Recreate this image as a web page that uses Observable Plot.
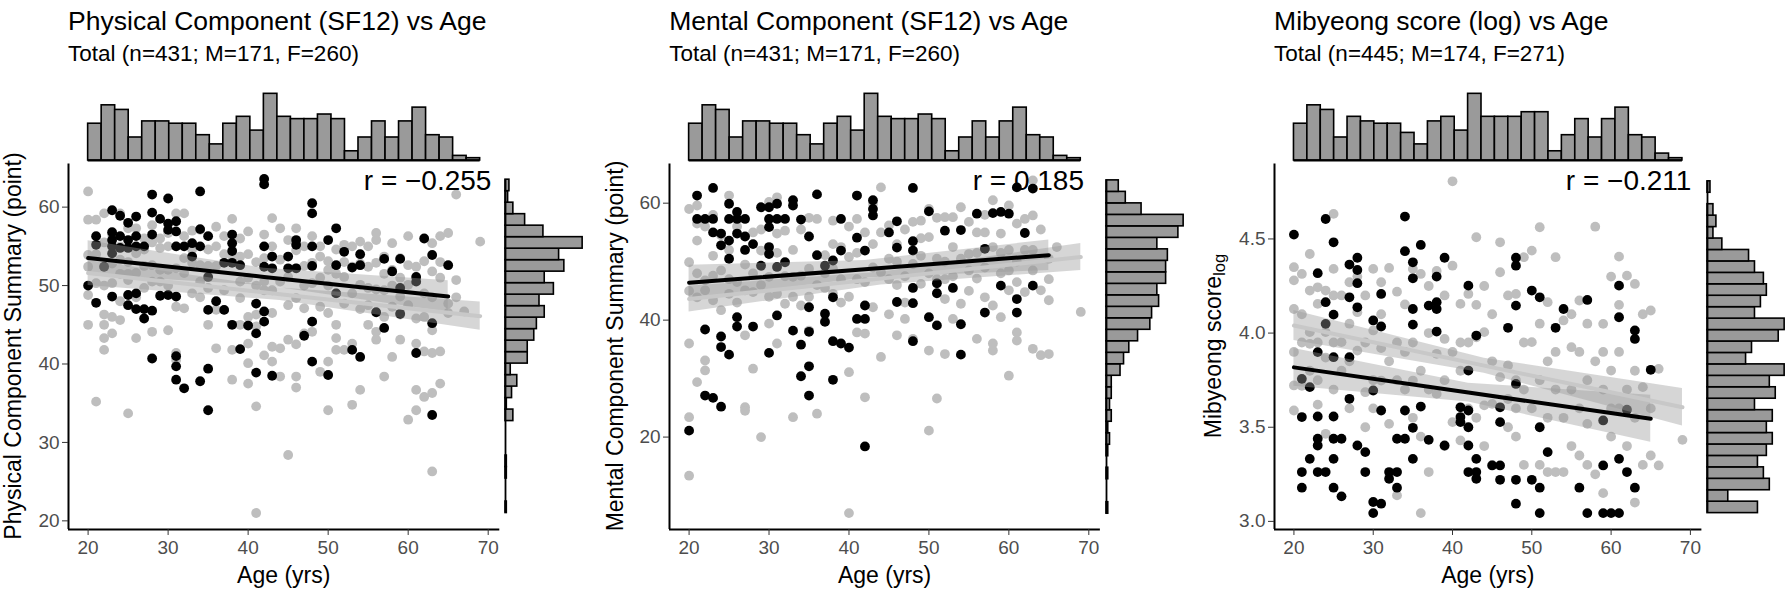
<!DOCTYPE html>
<html><head><meta charset="utf-8">
<script src="https://cdn.jsdelivr.net/npm/d3@7"></script>
<script src="https://cdn.jsdelivr.net/npm/@observablehq/plot@0.6"></script>
<style>
body{margin:0;background:#fff;}
#chart{position:relative;width:1787px;height:598px;overflow:hidden;font-family:"Liberation Sans",Arial,Helvetica,sans-serif;color:#000;}
.abs{position:absolute;white-space:nowrap;line-height:1;}
</style></head><body><div id="chart"></div>
<script>
// ---------------- DATA ----------------
const titles = ["Physical Component (SF12) vs Age", "Mental Component (SF12) vs Age", "Mibyeong score (log) vs Age"];
const subtitles = ["Total (n=431; M=171, F=260)", "Total (n=431; M=171, F=260)", "Total (n=445; M=174, F=271)"];
const yLabels = ["Physical Component Summary (point)", "Mental Component Summary (point)", "Mibyeong score<sub>log</sub>"];
const xLabel = "Age (yrs)";
const rLabels = ["r = \u22120.255", "r = 0.185", "r = \u22120.211"];
const xTicks = [20, 30, 40, 50, 60, 70];
const yTicksPcs = [20, 30, 40, 50, 60];
const yTicksMcs = [20, 40, 60];
const yTicksMib = [3.0, 3.5, 4.0, 4.5];

// age histogram counts (age 20 -> 69)
const ageCounts431 = [16,24,22,10,17,17,16,16,11,7,16,19,13,29,19,18,18,20,18,4,10,17,10,17,23,11,10,2,1];
const ageCounts445 = [16,24,22,10,19,17,16,16,12,7,17,19,13,29,19,19,19,21,21,4,11,18,10,18,23,11,10,3,1];
// outcome histogram counts (min -> max)
const pcsCounts = [1,0,0,1,1,0,0,0,6,1,5,9,4,17,17,22,24,30,26,37,30,45,41,59,29,15,6,2,3];
const mcsCounts = [1,0,0,1,0,1,2,1,3,2,3,3,8,10,13,18,25,26,30,29,34,34,35,29,41,44,20,11,7];
const mibCounts = [17,7,21,19,17,20,22,20,22,16,23,21,26,13,15,24,26,16,18,20,19,16,14,5,2,3,2,0,1];
const pcsRange = [21.0, 63.5];
const mcsRange = [6.9, 63.9];
const mibRange = [3.044, 4.806];

// linear fits: ages, fitted value, CI half-width
const maleFitAges = [20, 42, 65];
const femaleFitAges = [20, 44, 69];
const pcsMaleFit = [53.5, 51.1, 48.6], pcsMaleCI = [2.2, 1.1, 2.0];
const pcsFemaleFit = [51.6, 48.9, 46.1], pcsFemaleCI = [1.6, 0.8, 1.8];
const mcsMaleFit = [46.4, 48.7, 51.1], mcsMaleCI = [3.0, 1.5, 2.6];
const mcsFemaleFit = [43.6, 47.1, 50.8], mcsFemaleCI = [2.2, 1.1, 2.3];
const mibMaleFit = [3.818, 3.684, 3.545], mibMaleCI = [0.10, 0.05, 0.125];
const mibFemaleFit = [4.04, 3.827, 3.606], mibFemaleCI = [0.08, 0.04, 0.10];

// scatter points [age, value]
const pcsMale = [[20,50.0],[21,56.3],[21,55.2],[21,47.8],[22,52.4],[23,59.6],[23,56.8],[23,55.8],[23,55.0],[23,54.1],[23,48.6],[24,58.9],[24,56.3],[24,54.8],[25,58.0],[25,55.8],[25,54.8],[25,48.8],[25,47.5],[26,58.8],[26,56.3],[26,55.0],[26,49.0],[26,47.0],[27,55.0],[27,47.0],[27,45.8],[28,61.6],[28,59.3],[28,56.5],[28,46.8],[28,40.7],[29,58.5],[29,48.7],[30,61.1],[30,57.9],[30,57.1],[30,48.8],[31,58.2],[31,56.9],[31,55.0],[31,48.6],[31,41.0],[31,39.7],[31,38.0],[32,55.0],[32,36.9],[33,55.4],[33,53.7],[34,62.0],[34,57.2],[34,55.0],[34,37.8],[35,56.3],[35,51.1],[35,46.9],[35,39.4],[35,34.1],[36,48.0],[37,52.9],[37,46.9],[38,56.5],[38,55.4],[38,54.4],[38,52.9],[38,45.0],[39,52.6],[39,41.9],[40,44.9],[41,47.7],[41,43.9],[41,38.9],[42,63.6],[42,62.9],[42,55.0],[42,52.4],[42,46.7],[42,45.4],[43,53.7],[43,52.2],[43,38.5],[45,53.7],[45,52.2],[46,55.8],[46,55.2],[46,52.2],[47,43.6],[48,60.5],[48,59.2],[48,55.0],[48,52.5],[48,45.4],[48,40.3],[50,55.8],[50,38.6],[51,57.3],[51,52.6],[51,49.0],[52,54.3],[53,52.3],[53,41.8],[54,54.0],[54,52.6],[54,40.9],[56,46.6],[57,53.4],[57,44.6],[58,51.8],[59,53.4],[59,49.7],[59,46.4],[61,51.1],[61,50.5],[61,41.4],[62,56.0],[63,53.9],[63,45.2],[63,33.5],[65,52.6]];
const pcsFemale = [[20,62.0],[20,58.4],[20,53.9],[20,52.4],[20,48.8],[20,45.0],[21,58.4],[21,50.3],[21,35.2],[21,54.0],[22,59.2],[22,52.4],[22,46.3],[22,45.0],[22,43.3],[22,41.8],[22,50.0],[23,56.5],[23,50.3],[23,46.0],[23,43.9],[23,52.8],[24,59.2],[24,53.3],[24,45.6],[24,51.5],[25,57.3],[25,50.7],[25,33.7],[25,53.0],[26,57.3],[26,54.1],[26,51.6],[26,43.3],[27,54.6],[27,49.7],[27,56.0],[28,57.7],[28,52.6],[28,44.1],[28,55.5],[29,56.0],[29,54.8],[29,50.5],[30,56.7],[30,55.0],[30,44.3],[30,52.0],[31,59.2],[31,55.0],[31,52.2],[31,47.3],[31,41.4],[31,40.5],[32,59.2],[32,56.3],[32,51.6],[32,47.1],[33,54.6],[33,52.9],[33,49.0],[34,57.1],[34,52.6],[34,48.5],[35,54.6],[35,49.7],[35,45.0],[36,57.5],[36,46.9],[36,42.0],[36,52.5],[37,56.3],[37,49.4],[37,46.9],[38,58.5],[38,53.7],[38,41.8],[38,38.0],[39,56.0],[39,53.7],[39,48.4],[39,45.0],[40,56.9],[40,46.0],[40,42.6],[40,40.1],[40,37.5],[40,51.0],[41,47.7],[41,46.3],[41,44.8],[41,34.6],[41,21.0],[41,53.0],[42,56.5],[42,50.5],[42,49.4],[42,41.1],[43,58.6],[43,49.4],[43,42.2],[43,40.3],[43,55.0],[44,57.3],[44,53.3],[44,38.4],[44,42.0],[45,55.8],[45,51.1],[45,43.1],[45,28.4],[46,57.3],[46,52.2],[46,48.4],[46,38.4],[46,37.0],[46,42.5],[47,55.0],[47,47.1],[47,43.9],[47,50.0],[48,56.3],[48,52.9],[48,50.3],[48,45.4],[48,44.1],[49,53.7],[49,47.3],[49,39.0],[49,51.0],[50,53.1],[50,46.5],[50,40.3],[50,34.1],[50,50.0],[51,54.6],[51,49.0],[51,45.0],[51,43.3],[51,41.8],[52,55.2],[52,51.1],[52,47.7],[52,41.8],[53,52.4],[53,42.6],[53,34.8],[53,49.0],[54,55.6],[54,50.1],[54,36.7],[54,47.0],[55,52.4],[55,49.7],[55,45.0],[55,55.0],[56,56.7],[56,55.8],[56,52.9],[56,44.1],[56,43.1],[57,53.7],[57,49.4],[57,46.0],[57,38.4],[58,55.4],[58,47.3],[58,40.9],[58,52.0],[59,53.5],[59,48.6],[59,46.3],[59,43.1],[60,56.3],[60,52.6],[60,50.1],[60,32.9],[61,52.4],[61,45.8],[61,42.6],[61,36.7],[61,34.1],[62,53.1],[62,41.6],[62,35.8],[62,49.0],[63,55.4],[63,51.8],[63,44.3],[63,41.4],[63,36.3],[63,26.3],[64,56.3],[64,41.6],[64,37.5],[64,51.0],[65,56.7],[65,47.7],[65,46.5],[66,61.6],[66,50.7],[67,46.7],[69,55.6],
  [22,55.5],[24,55.0],[25,51.5],[27,52.5],[29,52.0],[30,50.0],[32,53.5],[33,57.0],[34,50.5],[35,52.5],[36,55.0],[37,54.0],[39,50.5],[40,54.0],[41,50.0],[42,53.5],[43,46.5],[44,50.5],[45,47.5],[46,54.5],[47,52.5],[49,55.0],[50,52.0],[51,51.5],[52,53.0],[53,55.0],[54,52.8],[55,47.5],[56,49.5],[57,51.5],[58,50.0],[59,51.0],[60,47.5],[62,46.0],[63,48.5],[64,53.0],[66,48.5],[28,50.5],[26,48.5],[24,48.0]];
const mcsMale = [[20,21.1],[21,61.3],[21,57.3],[22,57.3],[22,38.4],[22,27.1],[23,62.6],[23,57.3],[23,55.0],[23,26.7],[24,54.8],[24,52.8],[24,37.2],[24,35.4],[24,25.2],[25,59.9],[25,57.3],[25,53.6],[25,50.5],[25,34.1],[26,58.5],[26,57.3],[26,54.8],[26,40.5],[26,38.9],[27,57.3],[27,54.3],[27,52.0],[28,53.0],[28,38.9],[29,59.3],[29,49.3],[30,59.3],[30,57.3],[30,55.9],[30,52.5],[30,51.3],[30,34.4],[31,59.9],[31,57.3],[31,49.1],[31,40.8],[32,57.3],[32,49.9],[33,60.5],[33,59.6],[33,38.2],[34,57.2],[34,35.8],[34,30.4],[35,54.3],[35,42.2],[35,38.0],[35,32.1],[35,27.1],[36,61.5],[36,51.1],[37,49.3],[37,41.1],[37,39.7],[38,50.2],[38,43.9],[38,36.4],[38,29.8],[39,57.3],[39,51.9],[39,36.0],[40,35.3],[41,61.3],[41,54.1],[41,40.2],[42,51.9],[42,42.5],[42,40.2],[42,18.4],[43,60.5],[43,59.0],[43,57.9],[45,55.0],[46,56.9],[46,52.4],[46,43.1],[48,62.6],[48,53.5],[48,51.9],[48,45.5],[48,42.9],[48,36.4],[50,58.6],[50,40.5],[51,46.3],[51,44.6],[51,39.1],[52,55.3],[53,45.5],[54,55.4],[54,39.3],[54,34.1],[56,58.2],[57,52.2],[57,41.3],[58,58.3],[59,58.5],[59,45.9],[60,58.2],[61,62.7],[61,43.6],[61,41.3],[62,54.9],[63,62.5],[63,45.9]];
const mcsFemale = [[20,59.0],[20,49.9],[20,36.0],[20,23.4],[20,13.4],[20,45.0],[21,59.6],[21,53.6],[21,43.9],[21,29.4],[21,48.0],[22,46.8],[22,45.1],[22,33.1],[22,31.4],[22,56.0],[23,47.6],[23,43.4],[23,58.0],[24,54.5],[24,41.7],[24,48.5],[25,61.3],[25,44.5],[25,47.0],[26,46.5],[26,43.0],[26,56.0],[27,45.1],[27,37.4],[27,25.1],[27,24.5],[28,44.8],[28,31.7],[28,55.0],[29,51.9],[29,20.0],[29,46.0],[30,60.2],[30,47.4],[30,39.4],[30,44.0],[31,61.0],[31,54.8],[31,44.5],[31,36.0],[32,55.3],[32,42.8],[32,47.5],[33,47.4],[33,23.4],[33,52.0],[34,47.6],[34,55.5],[35,48.8],[35,38.2],[35,44.0],[36,57.3],[36,24.0],[36,46.0],[37,51.1],[37,39.9],[37,48.0],[38,48.8],[38,53.0],[38,44.5],[39,52.5],[39,47.0],[40,50.8],[40,31.1],[40,7.0],[40,44.0],[40,56.0],[41,61.3],[41,57.3],[41,37.9],[41,47.0],[42,37.7],[42,26.8],[42,46.5],[42,55.0],[43,59.9],[43,42.2],[43,49.0],[44,62.7],[44,48.2],[44,33.7],[44,55.0],[45,56.2],[45,47.0],[45,41.0],[46,37.4],[46,50.0],[46,53.0],[47,40.2],[47,55.5],[47,47.5],[48,56.8],[48,49.6],[48,36.8],[49,46.2],[49,57.0],[49,51.0],[50,59.0],[50,54.2],[50,34.8],[50,21.1],[50,48.0],[51,26.6],[51,57.5],[51,50.5],[52,57.6],[52,43.6],[52,34.2],[52,50.0],[53,57.6],[53,40.2],[53,47.5],[54,59.3],[54,42.8],[54,50.5],[55,56.8],[55,51.3],[55,45.0],[56,47.1],[56,36.8],[56,55.0],[57,55.0],[57,43.9],[57,49.0],[58,60.5],[58,42.5],[58,36.0],[58,34.8],[58,52.5],[59,54.8],[59,40.5],[59,48.0],[60,59.6],[60,45.1],[60,30.5],[60,52.0],[61,37.9],[61,36.5],[61,50.0],[61,56.5],[62,57.3],[62,44.8],[62,52.0],[63,63.9],[63,57.9],[63,35.1],[63,48.5],[64,45.1],[64,34.0],[64,55.5],[65,43.4],[65,34.2],[65,50.5],[66,52.5],[69,41.4],
  [21,56.5],[23,51.0],[25,52.0],[27,49.5],[29,55.5],[31,51.5],[33,44.0],[35,57.5],[37,45.5],[39,43.0],[41,51.5],[43,53.0],[45,50.5],[47,43.0],[49,54.0],[51,47.0],[53,52.5],[55,48.5],[57,58.0],[59,51.5],[61,46.5],[63,52.0],[65,47.0],[28,48.0],[34,42.5],[38,57.0],[46,46.0],[52,47.0],[56,51.5],[60,48.5]];
const mibMale = [[20,4.523],[21,3.757],[21,3.554],[21,3.262],[21,3.179],[22,3.713],[22,3.332],[23,4.318],[23,3.899],[23,3.557],[23,3.439],[23,3.403],[23,3.262],[24,4.606],[24,4.164],[24,4.049],[24,3.262],[25,4.482],[25,4.098],[25,3.872],[25,3.557],[25,3.439],[25,3.332],[25,3.179],[26,3.439],[26,3.133],[27,4.364],[27,4.19],[27,3.872],[27,3.651],[28,4.4],[28,4.335],[28,4.265],[28,4.137],[28,3.403],[29,3.368],[29,3.262],[30,4.067],[30,3.695],[30,3.103],[30,3.044],[31,4.208],[31,4.035],[31,3.589],[31,3.094],[32,3.262],[32,3.226],[33,3.439],[33,3.262],[33,3.179],[34,4.619],[34,4.435],[34,3.589],[34,3.439],[35,4.376],[35,4.291],[35,4.128],[35,4.045],[35,3.497],[35,3.332],[36,4.468],[36,3.61],[37,4.146],[37,3.433],[38,4.3],[38,4.164],[38,4.128],[38,4.008],[39,4.4],[39,3.403],[41,3.606],[41,3.554],[41,3.527],[42,4.252],[42,3.801],[42,3.589],[42,3.5],[42,3.403],[42,3.262],[43,3.987],[43,3.332],[43,3.262],[43,3.226],[45,3.297],[46,3.606],[46,3.527],[46,3.297],[46,3.221],[47,4.028],[48,4.4],[48,4.358],[48,4.146],[48,3.73],[48,3.221],[48,3.094],[50,4.226],[50,3.221],[51,4.19],[51,3.5],[51,3.179],[51,3.044],[52,3.368],[53,4.028],[54,4.128],[56,3.179],[57,4.176],[57,3.044],[59,3.536],[59,3.297],[59,3.044],[60,3.044],[61,4.252],[61,4.084],[61,3.332],[61,3.044],[62,3.593],[62,3.262],[63,4.014],[63,3.969],[63,3.179],[65,3.805]];
const mibFemale = [[20,4.35],[20,4.28],[20,4.128],[20,3.722],[20,3.589],[20,3.9],[21,4.314],[21,3.95],[21,3.72],[22,4.42],[22,4.226],[22,4.005],[22,3.943],[22,3.8],[23,4.243],[23,4.155],[23,3.75],[23,3.62],[24,4.226],[24,4.005],[24,3.465],[24,3.87],[25,4.633],[25,4.341],[25,3.95],[25,3.7],[26,3.952],[26,4.2],[26,3.8],[27,4.27],[27,4.05],[27,3.6],[28,4.111],[28,3.907],[28,4.3],[29,3.686],[29,4.2],[29,3.5],[30,4.341],[30,4.014],[30,3.75],[31,4.27],[31,3.748],[31,3.92],[32,4.346],[32,3.518],[32,3.85],[33,3.138],[33,4.22],[33,3.75],[34,4.152],[34,3.9],[34,3.7],[35,4.341],[35,3.748],[35,3.95],[36,4.314],[36,3.044],[36,3.8],[37,3.262],[37,4.25],[37,3.7],[38,3.89],[38,3.677],[38,4.33],[39,3.969],[39,3.75],[39,3.4],[40,4.806],[40,4.358],[40,3.527],[40,3.9],[41,4.155],[41,3.43],[41,3.8],[42,4.208],[42,3.6],[42,3.95],[43,4.509],[43,3.978],[43,3.55],[44,4.005],[44,3.616],[44,4.25],[45,3.624],[45,3.85],[45,3.3],[46,4.482],[46,4.323],[46,3.766],[47,3.828],[47,4.2],[47,3.5],[48,4.208],[48,3.6],[48,3.75],[49,4.403],[49,3.7],[49,3.3],[50,4.438],[50,3.952],[50,3.6],[51,4.562],[51,3.75],[51,3.3],[52,4.164],[52,3.85],[52,3.262],[53,4.403],[53,3.262],[53,3.7],[54,4.067],[54,3.55],[54,3.262],[55,3.925],[55,4.1],[55,3.4],[56,4.173],[56,3.6],[56,3.35],[57,3.518],[57,4.05],[57,3.3],[58,4.565],[58,3.85],[58,3.25],[59,4.049],[59,3.7],[59,3.15],[60,3.801],[60,4.3],[60,3.45],[61,4.406],[61,3.9],[61,3.6],[62,4.305],[62,3.7],[62,3.4],[63,4.261],[63,3.55],[63,3.1],[64,3.713],[64,4.1],[64,3.3],[65,4.12],[65,3.6],[66,3.81],[66,3.297],[69,3.433],
  [21,4.1],[23,3.95],[25,4.2],[27,3.85],[29,3.95],[31,4.1],[33,3.95],[35,3.55],[37,4.0],[39,4.2],[41,3.95],[43,4.15],[45,4.1],[47,3.65],[49,3.95],[51,4.05],[53,3.9],[55,3.7],[57,3.75],[59,3.9],[61,4.15],[63,3.8],[65,3.35],[44,3.4],[48,3.45],[52,3.55],[56,3.9],[60,3.6],[36,3.45],[30,3.6]];

// ---------------- BUILD ----------------
const FONT = '"Liberation Sans", Arial, Helvetica, sans-serif';
const chart = document.getElementById("chart");
const ageRange = [20, 69];
const xDomain = [17.55, 71.45];
const pts = a => a.map(([age, v]) => ({age, v}));
const fit = (ages, f, ci) => ages.map((age, i) => ({age, fit: f[i], lo: f[i] - ci[i], hi: f[i] + ci[i]}));

const panels = [
  {male: pcsMale, female: pcsFemale, ageCounts: ageCounts431, vCounts: pcsCounts, vRange: pcsRange,
   yDomain: [18.9, 65.5], yTicks: yTicksPcs, fmt: d => String(d),
   fitM: fit(maleFitAges, pcsMaleFit, pcsMaleCI), fitF: fit(femaleFitAges, pcsFemaleFit, pcsFemaleCI)},
  {male: mcsMale, female: mcsFemale, ageCounts: ageCounts431, vCounts: mcsCounts, vRange: mcsRange,
   yDomain: [4.2, 66.7], yTicks: yTicksMcs, fmt: d => String(d),
   fitM: fit(maleFitAges, mcsMaleFit, mcsMaleCI), fitF: fit(femaleFitAges, mcsFemaleFit, mcsFemaleCI)},
  {male: mibMale, female: mibFemale, ageCounts: ageCounts445, vCounts: mibCounts, vRange: mibRange,
   yDomain: [2.957, 4.898], yTicks: yTicksMib, fmt: d3.format(".1f"),
   fitM: fit(maleFitAges, mibMaleFit, mibMaleCI), fitF: fit(femaleFitAges, mibFemaleFit, mibFemaleCI)}
];
// layout (pixels)
const layout = [
  {axisX: 68.1, plotRight: 499.4, histX: 505.2, rDx: -8.4, yTitleX: 12.7},
  {axisX: 669.2, plotRight: 1100.1, histX: 1105.9, rDx: -16.4, yTitleX: 614.5},
  {axisX: 1274.1, plotRight: 1701.5, histX: 1707.3, rDx: -10.5, yTitleX: 1212.6}
];
const PT = 163.5, PB = 529, H = 598;
const BAR_FILL = "#9a9a9a";

function place(el, left, top) {
  el.style.position = "absolute";
  el.style.left = left + "px";
  el.style.top = top + "px";
  chart.appendChild(el);
}
function addText(html, left, top, size, extra = "") {
  const d = document.createElement("div");
  d.className = "abs";
  d.innerHTML = html;
  d.style.cssText += `left:${left}px;top:${top}px;font-size:${size}px;${extra}`;
  chart.appendChild(d);
  return d;
}

panels.forEach((p, i) => {
  const L = layout[i];
  const W = L.plotRight - L.axisX;

  // titles
  addText(titles[i], L.axisX, 30 - 0.8465 * 26.5, 26.5);
  addText(subtitles[i], L.axisX, 61.7 - 0.8465 * 22.5, 22.5);

  // top marginal histogram
  const bw = (ageRange[1] - ageRange[0]) / p.ageCounts.length;
  const topBins = p.ageCounts.map((c, k) => ({x1: ageRange[0] + k * bw, x2: ageRange[0] + (k + 1) * bw, c}));
  const topMax = d3.max(p.ageCounts);
  const top = Plot.plot({
    width: W, height: 72, marginTop: 0, marginBottom: 2, marginLeft: 0, marginRight: 0,
    style: {background: "transparent", overflow: "visible"},
    x: {domain: xDomain, axis: null}, y: {domain: [0, topMax * 1.05], axis: null},
    marks: [
      Plot.rectY(topBins.filter(d => d.c > 0), {x1: "x1", x2: "x2", y: "c", fill: BAR_FILL, stroke: "#000", strokeWidth: 1.6}),
      Plot.ruleY([0], {x1: ageRange[0], x2: ageRange[1], stroke: "#000", strokeWidth: 1.8})
    ]
  });
  place(top, L.axisX, 90);

  // right marginal histogram
  const vb = (p.vRange[1] - p.vRange[0]) / p.vCounts.length;
  const rBins = p.vCounts.map((c, k) => ({y1: p.vRange[0] + k * vb, y2: p.vRange[0] + (k + 1) * vb, c}));
  const rMax = d3.max(p.vCounts);
  const right = Plot.plot({
    width: 90, height: H, marginTop: PT, marginBottom: H - PB, marginLeft: 0, marginRight: 9,
    style: {background: "transparent", overflow: "visible"},
    x: {domain: [0, rMax * 1.05], axis: null}, y: {domain: p.yDomain, axis: null},
    marks: [
      Plot.rectX(rBins.filter(d => d.c > 0), {y1: "y1", y2: "y2", x: "c", fill: BAR_FILL, stroke: "#000", strokeWidth: 1.6}),
      Plot.ruleX([0], {y1: p.vRange[0], y2: p.vRange[1], stroke: "#000", strokeWidth: 1.8})
    ]
  });
  place(right, L.histX, 0);

  // scatter
  const ML = 70;
  const sc = Plot.plot({
    width: W + ML, height: H, marginTop: PT, marginBottom: H - PB, marginLeft: ML, marginRight: 0,
    style: {background: "transparent", overflow: "visible", fontFamily: FONT},
    x: {domain: xDomain}, y: {domain: p.yDomain},
    marks: [
      Plot.dot(pts(p.female), {x: "age", y: "v", r: 4.9, fill: "#bebebe"}),
      Plot.dot(pts(p.male), {x: "age", y: "v", r: 4.9, fill: "#000"}),
      Plot.areaY(p.fitF, {x: "age", y1: "lo", y2: "hi", fill: "#999999", fillOpacity: 0.4}),
      Plot.areaY(p.fitM, {x: "age", y1: "lo", y2: "hi", fill: "#999999", fillOpacity: 0.4}),
      Plot.line(p.fitF, {x: "age", y: "fit", stroke: "#c8c8c8", strokeWidth: 4}),
      Plot.line(p.fitM, {x: "age", y: "fit", stroke: "#000", strokeWidth: 4}),
      Plot.ruleX([xDomain[0]], {y1: p.yDomain[0], y2: p.yDomain[1], stroke: "#000", strokeWidth: 2}),
      Plot.ruleY([p.yDomain[0]], {x1: xDomain[0], x2: xDomain[1], stroke: "#000", strokeWidth: 2}),
      Plot.axisX({ticks: xTicks, tickSize: 6, tickPadding: 5, fontSize: 19, label: null, fill: "#4d4d4d", stroke: "#333"}),
      Plot.axisY({ticks: p.yTicks, tickFormat: p.fmt, tickSize: 6, tickPadding: 3, fontSize: 19, label: null, fill: "#4d4d4d", stroke: "#333"}),
      Plot.text([rLabels[i]], {text: d => d, frameAnchor: "top-right", dx: L.rDx, dy: 26.5, fontSize: 28, textAnchor: "end", lineAnchor: "bottom", fill: "#000"})
    ]
  });
  place(sc, L.axisX - ML, 0);

  // axis titles
  addText(xLabel, (L.axisX + L.plotRight) / 2, 583.3 - 0.8465 * 23, 23, "transform:translateX(-50%);");
  addText(yLabels[i], L.yTitleX, (PT + PB) / 2, 23, "transform:translate(-50%,-50%) rotate(-90deg);");
});
document.querySelectorAll("sub").forEach(s => { s.style.fontSize = "0.72em"; s.style.verticalAlign = "-0.28em"; s.style.lineHeight = "0"; });
</script></body></html>
